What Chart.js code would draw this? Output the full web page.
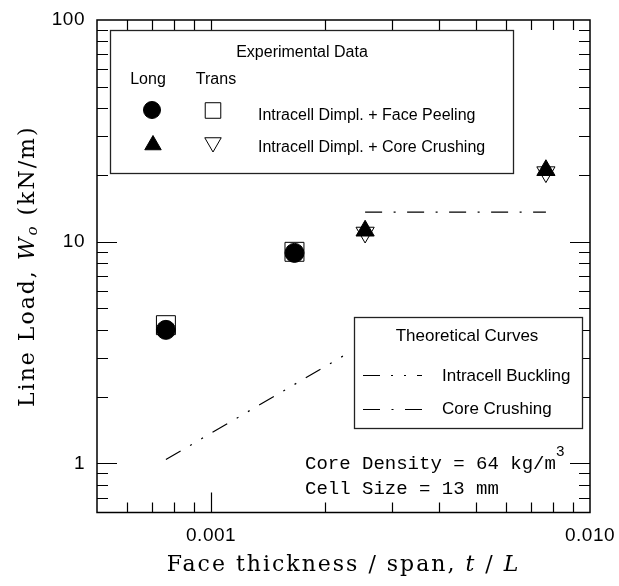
<!DOCTYPE html>
<html>
<head>
<meta charset="utf-8">
<script src="https://cdn.jsdelivr.net/npm/chart.js@4.4.1/dist/chart.umd.min.js"></script>
<style>
  html, body { margin: 0; padding: 0; background: #fff; }
  canvas { display: block; }
</style>
</head>
<body>
<canvas id="grafico" width="619" height="586"></canvas>
<script>
// valores (log-log)
const longFaceX = [0.00076, 0.00166];
const longFaceY = [4.0, 8.9];
const transFaceX = [0.00076, 0.00166];
const transFaceY = [4.2, 9.0];
const longCoreX = [0.00255, 0.00765];
const longCoreY = [11.2, 21.0];
const transCoreX = [0.00255, 0.00765];
const transCoreY = [11.0, 20.6];

// curvas teoricas
const bucklingX = [0.00076, 0.00229];
const bucklingY = [1.04, 3.13];
const crushingX = [0.00255, 0.00765];
const crushingY = [13.6, 13.6];

// eixos
const xRange = [0.0005, 0.01];
const yRange = [0.6, 100];
const xTicks = [0.001, 0.01];
const xTickLabels = ['0.001', '0.010'];
const yTicks = [1, 10, 100];
const yTickLabels = ['1', '10', '100'];

const bucklingDash = [17, 11, 2, 11, 2, 11];
const crushingDash = [17, 11.5, 2, 11.5];

function pts(xs, ys) {
    return xs.map((x, i) => ({ x: x, y: ys[i] }));
}

// minor ticks 1..9 de cada decada dentro do intervalo
function minorTicks(range) {
    const out = [];
    for (let e = Math.floor(Math.log10(range[0])); e <= Math.ceil(Math.log10(range[1])); e++) {
        for (let m = 1; m <= 9; m++) {
            const v = m * Math.pow(10, e);
            if (v > range[0] * 1.0001 && v < range[1] * 0.9999) out.push({ v: v, major: m === 1 });
        }
    }
    return out;
}

function drawRich(ctx, parts, cx, cy) {
    // parts: [{t, font, dy}]
    let w = 0;
    parts.forEach(p => { ctx.font = p.font; w += ctx.measureText(p.t).width; });
    let x = cx - w / 2;
    parts.forEach(p => {
        ctx.font = p.font;
        ctx.fillText(p.t, x, cy + (p.dy || 0));
        x += ctx.measureText(p.t).width;
    });
}

function marker(ctx, style, r, x, y, fill, rot) {
    ctx.save();
    ctx.fillStyle = fill;
    ctx.strokeStyle = '#000';
    ctx.lineWidth = 1;
    Chart.helpers.drawPoint(ctx, { pointStyle: style, radius: r, rotation: rot || 0, borderWidth: 1 }, x, y);
    ctx.restore();
}

const decoracao = {
    id: 'decoracao',
    afterDatasetsDraw(chart) {
        const ctx = chart.ctx;
        const a = chart.chartArea;
        const sx = chart.scales.x, sy = chart.scales.y;
        ctx.save();
        ctx.strokeStyle = '#000';
        ctx.fillStyle = '#000';
        ctx.lineWidth = 1.2;

        // ticks para dentro nos quatro lados
        ctx.beginPath();
        minorTicks(xRange).forEach(t => {
            const px = Math.round(sx.getPixelForValue(t.v)) + 0.5;
            const len = t.major ? 20 : 10;
            ctx.moveTo(px, a.bottom); ctx.lineTo(px, a.bottom - len);
            ctx.moveTo(px, a.top); ctx.lineTo(px, a.top + len);
        });
        minorTicks(yRange).forEach(t => {
            const py = Math.round(sy.getPixelForValue(t.v)) + 0.5;
            const len = t.major ? 20 : 11;
            ctx.moveTo(a.left, py); ctx.lineTo(a.left + len, py);
            ctx.moveTo(a.right, py); ctx.lineTo(a.right - len, py);
        });
        ctx.stroke();

        // moldura
        ctx.lineWidth = 1.5;
        ctx.strokeRect(a.left, a.top, a.right - a.left, a.bottom - a.top);

        // rotulos dos ticks
        ctx.font = '19px "Liberation Sans", Arial, sans-serif';
        ctx.letterSpacing = '0.5px';
        ctx.textBaseline = 'middle';
        ctx.textAlign = 'right';
        yTicks.forEach((v, i) => ctx.fillText(yTickLabels[i], a.left - 12, sy.getPixelForValue(v)));
        ctx.textAlign = 'center';
        xTicks.forEach((v, i) => ctx.fillText(xTickLabels[i], sx.getPixelForValue(v), a.bottom + 23));

        // titulos dos eixos
        ctx.textAlign = 'left';
        ctx.textBaseline = 'middle';
        ctx.letterSpacing = '2px';
        const serif = '22px "DejaVu Serif", serif';
        const serifIt = 'italic 22px "DejaVu Serif", serif';
        drawRich(ctx, [
            { t: 'Face thickness / span, ', font: serif },
            { t: 't', font: serifIt },
            { t: ' / ', font: serif },
            { t: 'L', font: serifIt }
        ], (a.left + a.right) / 2, 565);

        ctx.save();
        ctx.translate(28, (a.top + a.bottom) / 2);
        ctx.rotate(-Math.PI / 2);
        drawRich(ctx, [
            { t: 'Line Load, ', font: serif },
            { t: 'W', font: serifIt },
            { t: 'o', font: 'italic 15px "DejaVu Serif", serif', dy: 5 },
            { t: ' (kN/m)', font: serif }
        ], 0, 0);
        ctx.restore();

        // legenda dos dados experimentais
        ctx.letterSpacing = '0px';
        ctx.fillStyle = '#fff';
        ctx.fillRect(110, 30, 403, 143);
        ctx.strokeStyle = '#222';
        ctx.lineWidth = 1.3;
        ctx.strokeRect(110.5, 30.5, 403, 143);
        ctx.fillStyle = '#000';
        ctx.font = '16px "Liberation Sans", Arial, sans-serif';
        ctx.textAlign = 'center';
        ctx.fillText('Experimental Data', 302, 53);
        ctx.fillText('Long', 148, 80);
        ctx.fillText('Trans', 216, 80);
        ctx.textAlign = 'left';
        ctx.fillText('Intracell Dimpl. + Face Peeling', 258, 116);
        ctx.fillText('Intracell Dimpl. + Core Crushing', 258, 148);
        marker(ctx, 'circle', 8.5, 152, 110, '#000');
        marker(ctx, 'rect', 11, 213, 110.5, '#fff');
        marker(ctx, 'triangle', 9.5, 153, 145, '#000');
        marker(ctx, 'triangle', 9.5, 213, 142.5, '#fff', 180);

        // legenda das curvas teoricas
        ctx.fillStyle = '#fff';
        ctx.fillRect(354, 317, 228, 111);
        ctx.strokeStyle = '#222';
        ctx.strokeRect(354.5, 317.5, 228, 111);
        ctx.fillStyle = '#000';
        ctx.font = '17px "Liberation Sans", Arial, sans-serif';
        ctx.textAlign = 'center';
        ctx.fillText('Theoretical Curves', 467, 336);
        ctx.textAlign = 'left';
        ctx.fillText('Intracell Buckling', 442, 376);
        ctx.fillText('Core Crushing', 442, 409);
        ctx.strokeStyle = '#000';
        ctx.lineWidth = 1.2;
        ctx.setLineDash(bucklingDash);
        ctx.beginPath(); ctx.moveTo(363, 375.5); ctx.lineTo(422, 375.5); ctx.stroke();
        ctx.setLineDash(crushingDash);
        ctx.beginPath(); ctx.moveTo(363, 409.5); ctx.lineTo(422, 409.5); ctx.stroke();
        ctx.setLineDash([]);

        // anotacao
        ctx.font = '19px "Liberation Mono", "Courier New", monospace';
        ctx.fillText('Core Density = 64 kg/m', 305, 464);
        const w = ctx.measureText('Core Density = 64 kg/m').width;
        ctx.font = '15px "Liberation Mono", "Courier New", monospace';
        ctx.fillText('3', 305 + w, 452);
        ctx.font = '19px "Liberation Mono", "Courier New", monospace';
        ctx.fillText('Cell Size = 13 mm', 305, 489);
        ctx.restore();
    }
};

new Chart(document.getElementById('grafico').getContext('2d'), {
    type: 'scatter',
    data: {
        datasets: [
            {
                label: 'Long - Face Peeling',
                data: pts(longFaceX, longFaceY),
                pointStyle: 'circle',
                pointRadius: 9.5,
                backgroundColor: '#000',
                borderColor: '#000',
                borderWidth: 1
            },
            {
                label: 'Trans - Face Peeling',
                data: pts(transFaceX, transFaceY),
                pointStyle: 'rect',
                pointRadius: 13.4,
                backgroundColor: '#fff',
                borderColor: '#000',
                borderWidth: 1
            },
            {
                label: 'Long - Core Crushing',
                data: pts(longCoreX, longCoreY),
                pointStyle: 'triangle',
                pointRadius: 10.5,
                backgroundColor: '#000',
                borderColor: '#000',
                borderWidth: 1
            },
            {
                label: 'Trans - Core Crushing',
                data: pts(transCoreX, transCoreY),
                pointStyle: 'triangle',
                rotation: 180,
                pointRadius: 10.5,
                backgroundColor: '#fff',
                borderColor: '#000',
                borderWidth: 1
            },
            {
                label: 'Intracell Buckling',
                data: pts(bucklingX, bucklingY),
                showLine: true,
                pointRadius: 0,
                borderColor: '#000',
                borderWidth: 1.2,
                borderDash: bucklingDash,
                fill: false
            },
            {
                label: 'Core Crushing',
                data: pts(crushingX, crushingY),
                showLine: true,
                pointRadius: 0,
                borderColor: '#000',
                borderWidth: 1.2,
                borderDash: crushingDash,
                fill: false
            }
        ]
    },
    options: {
        responsive: false,
        animation: false,
        layout: { padding: { left: 97, top: 20, right: 29, bottom: 73.5 } },
        plugins: {
            legend: { display: false },
            tooltip: { enabled: false }
        },
        scales: {
            x: { type: 'logarithmic', min: xRange[0], max: xRange[1], display: false },
            y: { type: 'logarithmic', min: yRange[0], max: yRange[1], display: false }
        }
    },
    plugins: [decoracao]
});
</script>
</body>
</html>
